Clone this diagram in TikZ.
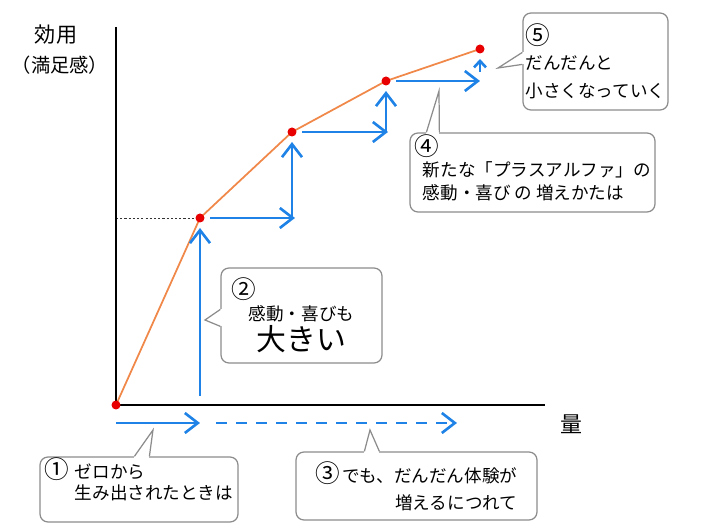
\documentclass[tikz,border=0pt]{standalone}
\usepackage{fontspec}
\setmainfont{Noto Sans CJK JP}
\usetikzlibrary{arrows.meta,backgrounds}
\definecolor{Ao}{HTML}{1E82E6}
\definecolor{Daidai}{HTML}{F0884A}
\definecolor{Aka}{HTML}{E80000}
\definecolor{Hai}{HTML}{8C8C8C}
% 丸数字を少し大きく
\newcommand{\maru}[1]{{\fontsize{14}{12}\selectfont #1}}
% 吹き出しのつの
\newcommand{\tsuno}[3]{%
  \fill[white] (#1) -- (#3) -- (#2) -- cycle;
  \draw[white, line width=1.4pt] (#1) -- (#2);
  \draw[tsunosen] (#1) -- (#3) -- (#2);}
\tikzset{
  jiku/.style      = {line width=1.4pt, black},
  hojosen/.style   = {black!80, line width=0.5pt, dash pattern=on 1.2pt off 1.2pt},
  kyokusen/.style  = {Daidai, line width=1pt},
  ten/.style       = {circle, fill=Aka, inner sep=0pt, minimum size=1.8mm,
                      outer sep=1.1mm},
  yajirushi/.style = {-{Straight Barb[length=2.6mm,width=4mm]}, Ao,
                      line width=1.5pt},
  kogata/.style    = {-{Straight Barb[length=1.3mm,width=2.4mm]}, Ao,
                      line width=1.5pt},
  hasen/.style     = {yajirushi, dash pattern=on 2.2mm off 1.8mm},
  fukidashi/.style = {draw=Hai, line width=0.7pt, rounded corners=1.6mm,
                      fill=white, inner sep=0pt, font=\fontsize{10}{12}\selectfont},
  tsunosen/.style  = {draw=Hai, line width=0.7pt, line join=miter},
  midashi/.style   = {font=\fontsize{11}{13}\selectfont},
}
\begin{document}
\begin{tikzpicture}[x=0.2mm, y=-0.2mm]
  \useasboundingbox (0,0) rectangle (705,531);
  % 軸
  \coordinate (o) at (116,405);
  \coordinate (ytop) at (116,27);
  \coordinate (xend) at (545,405);
  \draw[jiku] (ytop) -- (o) -- (xend);
  \node[midashi, font=\fontsize{12}{14}\selectfont] (kouyou) at (56,35) {効用};
  \node[midashi] (manzoku) at (60,65) {（満足感）};
  \node[midashi, font=\fontsize{12.5}{14}\selectfont] (ryou) at (571,424) {量};

  % 点と曲線
  \node[ten] (p0) at (o) {};
  \node[ten] (p1) at (200,218) {};
  \node[ten] (p2) at (292,132) {};
  \node[ten] (p3) at (386,81) {};
  \node[ten] (p4) at (480,49) {};
  \coordinate (g1) at (116,218);
  \begin{scope}[on background layer]
    \draw[kyokusen] (p0.center) -- (p1.center) -- (p2.center) -- (p3.center) -- (p4.center);
    \draw[hojosen] (g1) -- (p1.center);
  \end{scope}

  % 矢印
  \coordinate (s0) at (200,396);
  \coordinate (k1) at (292,218);
  \coordinate (k2) at (386,132);
  \coordinate (k3) at (480,81);
  \draw[yajirushi] (s0) -- (p1);
  \draw[yajirushi] (p1) -- ([xshift=0.6mm]k1);
  \draw[yajirushi] (k1) -- (p2);
  \draw[yajirushi] (p2) -- ([xshift=0.4mm]k2);
  \draw[yajirushi] (k2) -- (p3);
  \draw[yajirushi] (p3) -- (k3);
  \draw[kogata, shorten <=1.8mm] (k3) -- (p4);
  \coordinate (b0) at (116,423);
  \coordinate (b1) at (200,423);
  \coordinate (b2) at (216,423);
  \coordinate (b3) at (457,423);
  \draw[yajirushi] (b0) -- (b1);
  \draw[hasen] (b2) -- (b3);

  % 吹き出し
  \node[fukidashi, minimum width=39.6mm, minimum height=13mm, align=left,
        text depth=4.2mm] (f1) at (139,489.5)
    {\maru{①}\hspace{3pt}ゼロから\\\hspace{17pt}生み出されたときは};
  \node[fukidashi, minimum width=48.2mm, minimum height=13.6mm, align=right] (f3)
    at (416.5,486) {\maru{③}\hspace{1pt}でも、だんだん体験が\\[1.2mm]増えるにつれて};
  \node[fukidashi, minimum width=32.2mm, minimum height=19mm, align=center] (f2)
    at (301.5,315.5)
    {\makebox[8em][l]{\maru{②}}\\[0.2mm]感動・喜びも\\[0.4mm]{\fontsize{17}{20}\selectfont 大きい}};
  \node[fukidashi, minimum width=49mm, minimum height=15.8mm, align=left,
        text depth=2.2mm] (f4) at (532.5,172.5)
    {\maru{④}\\\hspace{0.5em}新たな「プラスアルファ」の\\[0.4mm]\hspace{0.5em}感動・喜び の 増えかたは};
  \node[fukidashi, minimum width=29mm, minimum height=19.4mm, align=left] (f5)
    at (595.5,61.5) {\maru{⑤}\\[0.8mm]だんだんと\\[1.4mm]小さくなっていく};

  \coordinate (t1) at (153,430);
  \coordinate (t3) at (370,430);
  \coordinate (t2) at (205,320);
  \coordinate (t4) at (439,91);
  \coordinate (t5) at (498,68);
  \tsuno{[xshift=19mm]f1.north west}{[xshift=22mm]f1.north west}{t1}
  \tsuno{[xshift=13.8mm]f3.north west}{[xshift=16.8mm]f3.north west}{t3}
  \tsuno{[yshift=-8.4mm]f2.north west}{[yshift=-11.8mm]f2.north west}{t2}
  \tsuno{[xshift=3.4mm]f4.north west}{[xshift=6mm]f4.north west}{t4}
  \tsuno{[yshift=-8mm]f5.north west}{[yshift=-10.4mm]f5.north west}{t5}
\end{tikzpicture}
\end{document}
